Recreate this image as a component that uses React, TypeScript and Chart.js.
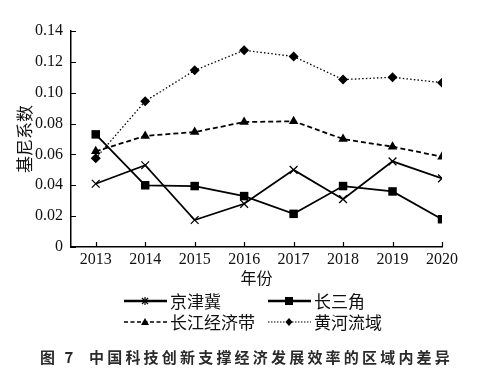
import React, { useEffect, useRef } from "react";
import { Chart, registerables } from "chart.js";

Chart.register(...registerables);

const years = [2013, 2014, 2015, 2016, 2017, 2018, 2019, 2020];
const yTickValues = [0, 0.02, 0.04, 0.06, 0.08, 0.1, 0.12, 0.14];
const jingJinJi = [0.041, 0.053, 0.0175, 0.028, 0.05, 0.031, 0.0555, 0.0445];
const changSanJiao = [0.073, 0.04, 0.0395, 0.033, 0.0215, 0.0395, 0.036, 0.018];
const changJiang = [0.062, 0.072, 0.0745, 0.081, 0.0815, 0.07, 0.065, 0.0585];
const huangHe = [0.0575, 0.0945, 0.1145, 0.1275, 0.1235, 0.1085, 0.11, 0.1065];
const seriesNames = ["京津冀", "长三角", "长江经济带", "黄河流域"];

const serif = "'Liberation Serif', 'DejaVu Serif', serif";
const cjk = "'Noto Sans CJK SC', sans-serif";

const toPoints = (vals: number[]) => vals.map((v, i) => ({ x: years[i], y: v }));

const innerTicks = {
  id: "innerTicks",
  afterDraw(chart: any) {
    const { ctx, scales, chartArea } = chart;
    ctx.save();
    ctx.strokeStyle = "#000";
    ctx.lineWidth = 1.2;
    ctx.beginPath();
    scales.x.ticks.forEach((t: any) => {
      const px = Math.round(scales.x.getPixelForValue(t.value)) + 0.5;
      ctx.moveTo(px, chartArea.bottom);
      ctx.lineTo(px, chartArea.bottom - 5);
    });
    scales.y.ticks.forEach((t: any) => {
      const py = Math.round(scales.y.getPixelForValue(t.value)) + 0.5;
      ctx.moveTo(chartArea.left, py);
      ctx.lineTo(chartArea.left + 5, py);
    });
    ctx.stroke();
    ctx.restore();
  },
};

function LegendItem({ x, y, name, dash, marker, width }: any) {
  const cx = 21;
  let m: any = null;
  if (marker === "cross") {
    m = (
      <g stroke="#000" strokeWidth={1.2}>
        <line x1={cx - 3} y1={7} x2={cx + 3} y2={13} />
        <line x1={cx - 3} y1={13} x2={cx + 3} y2={7} />
        <line x1={cx} y1={6} x2={cx} y2={14} />
      </g>
    );
  } else if (marker === "square") {
    m = <rect x={cx - 4} y={6} width={8} height={8} fill="#000" />;
  } else if (marker === "triangle") {
    m = <polygon points={`${cx},6 ${cx + 4},13 ${cx - 4},13`} fill="#000" />;
  } else {
    m = <polygon points={`${cx},6 ${cx + 3.5},10 ${cx},14 ${cx - 3.5},10`} fill="#000" />;
  }
  return (
    <div style={{ position: "absolute", left: x, top: y - 10, height: 20, display: "flex", alignItems: "center" }}>
      <svg width={43} height={20} style={{ display: "block" }}>
        <line x1={0} y1={10} x2={43} y2={10} stroke="#000" strokeWidth={width} strokeDasharray={dash} />
        {m}
      </svg>
      <span style={{ fontFamily: cjk, fontSize: 17, color: "#111", marginLeft: 3, lineHeight: "20px" }}>{name}</span>
    </div>
  );
}

export default function App() {
  const canvasRef = useRef<HTMLCanvasElement | null>(null);

  useEffect(() => {
    if (!canvasRef.current) return;
    const common = { borderColor: "#000", backgroundColor: "#000", pointBorderColor: "#000", pointBackgroundColor: "#000" };
    const chart = new Chart(canvasRef.current, {
      type: "line",
      data: {
        datasets: [
          { ...common, label: seriesNames[0], data: toPoints(jingJinJi), borderWidth: 1.8, pointStyle: "crossRot", pointRadius: 5.5, pointBorderWidth: 1.3 },
          { ...common, label: seriesNames[1], data: toPoints(changSanJiao), borderWidth: 1.8, pointStyle: "rect", pointRadius: 6, pointBorderWidth: 0 },
          { ...common, label: seriesNames[2], data: toPoints(changJiang), borderWidth: 1.8, borderDash: [5, 3], pointStyle: "triangle", pointRadius: 5.5, pointBorderWidth: 0 },
          { ...common, label: seriesNames[3], data: toPoints(huangHe), borderWidth: 1.3, borderDash: [1.5, 2.2], pointStyle: "rectRot", pointRadius: 5, pointBorderWidth: 0 },
        ],
      },
      options: {
        animation: false,
        responsive: false,
        maintainAspectRatio: false,
        layout: { padding: { left: 0, top: 31, right: 43, bottom: 87 } },
        plugins: { legend: { display: false }, tooltip: { enabled: false } },
        scales: {
          x: {
            type: "linear",
            min: 2012.5,
            max: 2020,
            afterBuildTicks: (s: any) => {
              s.ticks = years.map((v) => ({ value: v }));
            },
            afterFit: (s: any) => {
              s.height = 45;
            },
            grid: { display: false, drawTicks: false },
            border: { display: true, color: "#000", width: 1.5 },
            ticks: { color: "#111", font: { family: serif, size: 16 }, padding: 3, maxRotation: 0, autoSkip: false, callback: (v: any) => String(v) },
            title: { display: true, text: "年份", color: "#111", font: { family: cjk, size: 16 }, padding: { top: 0, bottom: 4 } },
          },
          y: {
            type: "linear",
            min: 0,
            max: 0.14,
            afterBuildTicks: (s: any) => {
              s.ticks = yTickValues.map((v) => ({ value: v }));
            },
            afterFit: (s: any) => {
              s.width = 71;
            },
            grid: { display: false, drawTicks: false },
            border: { display: true, color: "#000", width: 1.5 },
            ticks: { color: "#111", font: { family: serif, size: 16 }, padding: 8, callback: (v: any) => (v === 0 ? "0" : Number(v).toFixed(2)) },
            title: { display: true, text: "基尼系数", color: "#111", font: { family: cjk, size: 17 }, padding: { top: 14, bottom: 0 } },
          },
        },
      },
      plugins: [innerTicks],
    } as any);
    return () => chart.destroy();
  }, []);

  return (
    <div style={{ position: "absolute", left: 0, top: 0, width: 485, height: 379, background: "#fff", overflow: "hidden" }}>
      <canvas ref={canvasRef} width={485} height={379} style={{ position: "absolute", left: 0, top: 0, width: 485, height: 379 }} />
      <LegendItem x={124} y={301} name={seriesNames[0]} marker="cross" width={2.4} />
      <LegendItem x={268} y={301} name={seriesNames[1]} marker="square" width={2.4} />
      <LegendItem x={124} y={322} name={seriesNames[2]} marker="triangle" width={1.6} dash="4 2.5" />
      <LegendItem x={268} y={322} name={seriesNames[3]} marker="diamond" width={1.2} dash="1.5 1.5" />
      <div style={{ position: "absolute", left: 40, top: 347, height: 20, lineHeight: "20px", fontFamily: cjk, fontSize: 15, fontWeight: 700, color: "#2a2a2a", whiteSpace: "nowrap" }}>
        <span style={{ letterSpacing: 3 }}>图 7</span>
        <span style={{ position: "absolute", left: 49, letterSpacing: 3.2 }}>中国科技创新支撑经济发展效率的区域内差异</span>
      </div>
    </div>
  );
}
